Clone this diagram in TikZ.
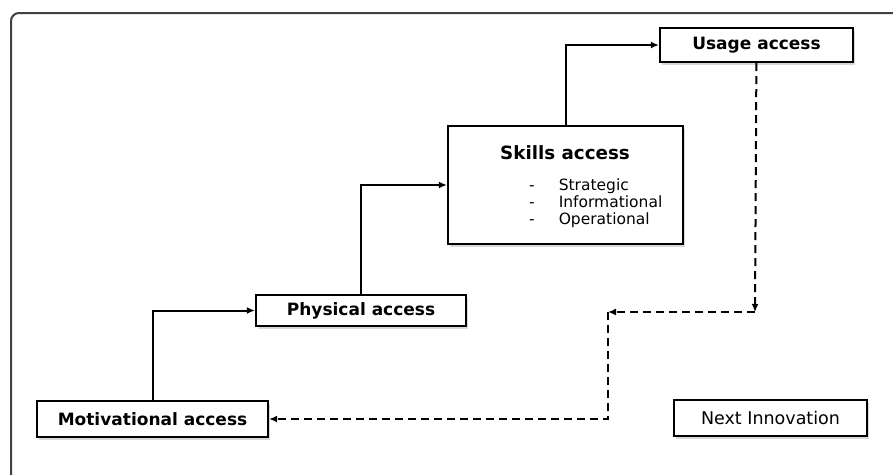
\documentclass[tikz,border=0pt]{standalone}
\usepackage{fontspec}
\setmainfont{DejaVu Sans}
\usetikzlibrary{shadows,arrows.meta}

\begin{document}
\begin{tikzpicture}[x=1pt,y=-1pt,%
  acc/.style={draw,line width=2.2pt,fill=white,inner sep=0pt,
    drop shadow={shadow xshift=2pt,shadow yshift=-2.5pt,fill=black!30},
    font=\fontsize{17}{20}\selectfont\bfseries},
  plain/.style={font=\fontsize{17.5}{20}\selectfont\mdseries},
  dsh/.style={dash pattern=on 8pt off 5pt},
  >={Latex[length=8pt,width=7pt]}]
  \useasboundingbox (0,0) rectangle (893,474);
  \draw[line width=2pt,black!75,rounded corners=8pt] (11,490) -- (11,13) -- (910,13);
  \node[acc,minimum width=193,minimum height=34] (usage) at (756.5,45) {Usage access};
  \node[acc,minimum width=235,minimum height=118] (skills) at (565.5,185) {};
  \node[font=\fontsize{18.3}{20}\selectfont\bfseries] (skillstitle) at (565,153) {Skills access};
  \node[anchor=west,inner sep=0pt,font=\fontsize{15.5}{17}\selectfont] (skillslist) at (529,204)
    {\begin{tabular}{@{}l@{\hspace{24pt}}l@{}}-&Strategic\\-&Informational\\-&Operational\end{tabular}};
  \node[acc,minimum width=210,minimum height=31] (phys) at (361,310.5) {Physical access};
  \node[acc,minimum width=231,minimum height=36] (motiv) at (152.5,419) {Motivational access};
  \node[acc,plain,minimum width=193,minimum height=36] (next) at (770.5,418) {Next Innovation};
  \coordinate (turn1) at (755,312); \coordinate (turn2) at (608,312);
  \draw[line width=2pt,->] (motiv) |- (phys);
  \draw[line width=2pt,->] (phys) |- (skills);
  \draw[line width=2pt,->] (skills) |- (usage);
  \draw[line width=2pt,dsh,->] (usage) -- (turn1);
  \draw[line width=2pt,dsh,->] (turn1) -- (turn2);
  \draw[line width=2pt,dsh,->] (turn2) |- (motiv);
\end{tikzpicture}
\end{document}
